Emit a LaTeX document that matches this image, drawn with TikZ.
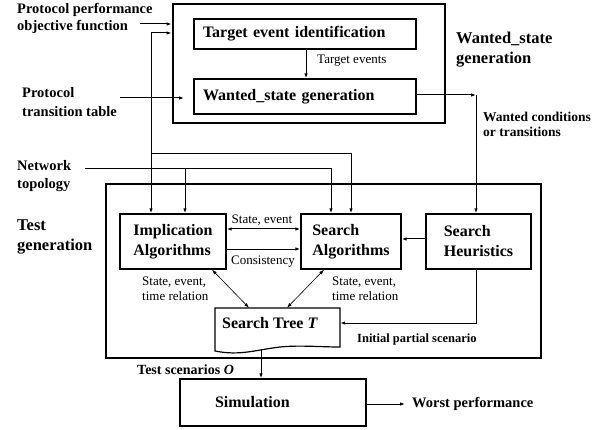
\documentclass[tikz,border=0pt]{standalone}
\usepackage{fontspec}
\setmainfont{Liberation Serif}
\usetikzlibrary{arrows.meta}
\begin{document}
\begin{tikzpicture}[x=1pt,y=-1pt,
 box/.style={draw, line width=1.4pt, inner sep=0pt, font=\bfseries\fontsize{16}{20}\selectfont, align=left},
 outer/.style={draw, line width=2.8pt, inner sep=0pt},
 arr/.style={line width=1pt, -{Latex[length=5pt,width=3.5pt]}},
 darr/.style={line width=1pt, {Latex[length=5pt,width=3.5pt]}-{Latex[length=5pt,width=3.5pt]}},
 tarr/.style={line width=0.6pt, {Latex[length=5pt,width=3.5pt]}-{Latex[length=5pt,width=3.5pt]}},
 blab/.style={font=\bfseries\fontsize{14.5}{17}\selectfont, align=left, anchor=west, inner sep=0pt},
 bigl/.style={font=\bfseries\fontsize{16.5}{20}\selectfont, align=left, anchor=west, inner sep=0pt},
 smlab/.style={font=\fontsize{13}{15}\selectfont, align=left, inner sep=0pt},
]
\useasboundingbox (0,0) rectangle (607,430);

% outer boxes
\node[outer, minimum width=272pt, minimum height=119pt] (top) at (309,63.5) {};
\node[outer, minimum width=435pt, minimum height=174pt] (bot) at (323.5,271) {};

% inner boxes
\node[box, minimum width=222pt, minimum height=30pt, text width=204pt, inner xsep=9pt] (TEI) at (305,34) {Target event identification};
\node[box, minimum width=222pt, minimum height=35pt, text width=204pt, inner xsep=9pt] (WSG) at (305,96.5) {Wanted\_state generation};
\node[box, minimum width=106pt, minimum height=55pt] (IA) at (173,241.5) {Implication\\Algorithms};
\node[box, minimum width=100pt, minimum height=55pt] (SA) at (351,241.5) {Search\\Algorithms};
\node[box, minimum width=105pt, minimum height=55pt] (SH) at (478.5,241.5) {Search\\Heuristics};
\node[box, minimum width=186pt, minimum height=47pt, text width=116pt, inner xsep=35pt] (Sim) at (273,402.5) {Simulation};

% search tree (document shape)
\node[minimum width=125pt, minimum height=42pt, inner sep=0pt] (ST) at (277.5,329) {};
\draw[line width=1.2pt] (215,308) -- (340,308) -- (340,347)
  .. controls (320,347) and (300,345) .. (280,347)
  .. controls (255,350) and (240,356) .. (215,351) -- cycle;
\node[anchor=west, inner sep=0pt, font=\bfseries\fontsize{16}{20}\selectfont] (STt) at (222,323) {Search Tree \textit{T}};

% labels
\node[blab] (ppo) at (17,18) {Protocol performance\\objective function};
\node[blab, font=\bfseries\fontsize{14.5}{19}\selectfont] (ptt) at (22,102) {Protocol\\transition table};
\node[blab, font=\bfseries\fontsize{14.5}{18}\selectfont] (nt) at (17,176) {Network\\topology};
\node[bigl] (tg) at (17,237) {Test\\generation};
\node[bigl] (wsgl) at (456,50) {Wanted\_state\\generation};
\node[blab, font=\bfseries\fontsize{13.5}{15}\selectfont] (wct) at (483,124) {Wanted conditions\\or transitions};
\node[smlab, anchor=west] (tev) at (317,61) {Target events};
\node[smlab] (se) at (262,220) {State, event};
\node[smlab] (cons) at (263,262) {Consistency};
\node[smlab, anchor=west] (setl) at (142,289) {State, event,\\time relation};
\node[smlab, anchor=west] (setr) at (332,289) {State, event,\\time relation};
\node[blab, font=\bfseries\fontsize{12.5}{15}\selectfont] (ips) at (357,339) {Initial partial scenario};
\node[blab, font=\bfseries\fontsize{14}{17}\selectfont] (tso) at (137,370) {Test scenarios \textit{O}};
\node[blab] (wp) at (412,404) {Worst performance};

% coordinates
\coordinate (ppoE) at (140,24);
\coordinate (fb) at (151,33);
\coordinate (fbj) at (151,154);
\coordinate (fbr) at (351,154);
\coordinate (ntS) at (85,169);
\coordinate (ntB) at (185,169);
\coordinate (ntT) at (331,169);
\coordinate (ptS) at (120,98);
\coordinate (ptE) at (184,98);
\coordinate (te) at (306,0);
\coordinate (wc) at (476,95);
\coordinate (sh1) at (476,323);
\coordinate (stb) at (261,350);
\coordinate (wpE) at (405,404);

% connectors
\draw[arr] (ppoE) -- (ppoE -| top.west);
\draw[arr] (fb) -- (fb -| top.west);
\draw[arr] (fb) -- (fb |- IA.north);
\draw[arr] (fbj) -- (fbr) -- (fbr |- SA.north);
\draw[arr] (ntS) -- (ntT) -- (ntT |- SA.north);
\draw[arr] (ntB) -- (ntB |- IA.north);
\draw[arr] (ptS) -- (ptE);
\draw[arr] (te |- TEI.south) -- (te |- WSG.north);
\draw[arr] (WSG.east |- wc) -- (wc);
\draw[arr] (wc) -- (wc |- SH.north);
\draw[darr] ([yshift=12.5pt]IA.east) -- ([yshift=12.5pt]SA.west);
\draw[arr] ([yshift=-7.5pt]IA.east) -- ([yshift=-7.5pt]SA.west);
\draw[arr] ([yshift=2.5pt]SH.west) -- ([yshift=2.5pt]SA.east);
\draw[tarr] ([xshift=39pt]IA.south) -- ([xshift=-28.5pt]ST.north);
\draw[tarr] ([xshift=-27pt]SA.south) -- ([xshift=9.5pt]ST.north);
\draw[arr] (sh1 |- SH.south) -- (sh1) -- (sh1 -| ST.east);
\draw[arr] (stb) -- (stb |- Sim.north);
\draw[arr] (Sim.east |- wpE) -- (wpE);
\end{tikzpicture}
\end{document}
